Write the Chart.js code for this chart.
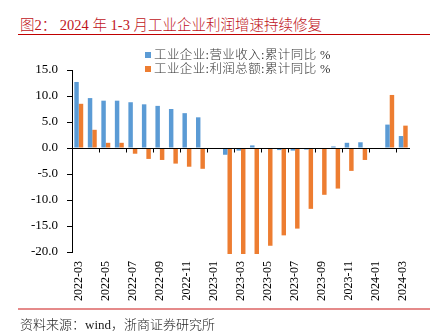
<!DOCTYPE html>
<html>
<head>
<meta charset="utf-8">
<script src="https://cdn.jsdelivr.net/npm/chart.js@4.4.1/dist/chart.umd.min.js"></script>
<style>
  body { margin: 0; background: #fff; }
  #wrap { position: relative; width: 435px; height: 333px; overflow: hidden; }
  #title { position: absolute; left: 20px; top: 13px; font: 300 14.5px "Liberation Serif", "Noto Sans CJK SC"; color: #c0141b; white-space: nowrap; }
  #topline { position: absolute; left: 18px; top: 34px; width: 412px; height: 1px; background: #c00000; }
  #legend { position: absolute; left: 145px; top: 49px; font: 300 12.5px "Liberation Serif", "Noto Sans CJK SC"; color: #333; letter-spacing: 0.4px; line-height: 13.5px; }
  #legend span.box { display: inline-block; width: 6px; height: 6px; margin-right: 3px; vertical-align: 1px; }
  #box { position: absolute; left: 0; top: 0; width: 435px; height: 333px; }
  #bottomline { position: absolute; left: 18px; top: 308px; width: 412px; height: 2px; background: #e58a8a; }
  #source { position: absolute; left: 20px; top: 314px; font: 300 13px "Liberation Serif", "Noto Sans CJK SC"; color: #222; white-space: nowrap; }
</style>
</head>
<body>
<div id="wrap">
  <div id="title">图2： 2024 年 1-3 月工业企业利润增速持续修复</div>
  <div id="topline"></div>
  <div id="box"><canvas id="profitChart"></canvas></div>
  <div id="legend"></div>
  <div id="bottomline"></div>
  <div id="source">资料来源：wind，浙商证券研究所</div>
</div>
<script>
const months = ['2022-03','2022-04','2022-05','2022-06','2022-07','2022-08','2022-09','2022-10','2022-11','2022-12',
  '2023-01','2023-02','2023-03','2023-04','2023-05','2023-06','2023-07','2023-08','2023-09','2023-10','2023-11','2023-12',
  '2024-01','2024-02','2024-03'];
// 营业收入 累计同比 %
const revenueYoY = [12.7, 9.6, 9.1, 9.1, 8.8, 8.4, 8.1, 7.5, 6.7, 5.9,
  null, -1.3, -0.5, 0.5, -0.1, -0.4, -0.5, -0.3, 0.0, 0.3, 1.0, 1.1,
  null, 4.5, 2.3];
// 利润总额 累计同比 %
const profitYoY = [8.5, 3.5, 1.0, 1.0, -1.1, -2.1, -2.3, -3.0, -3.6, -4.0,
  null, -22.9, -21.4, -20.6, -18.8, -16.8, -15.5, -11.7, -9.0, -7.8, -4.4, -2.3,
  null, 10.2, 4.3];
const seriesNames = ['工业企业:营业收入:累计同比 %', '工业企业:利润总额:累计同比 %'];
const yTicks = { min: -20, max: 15, step: 5 };

// zero line with tick marks every 2 categories
const zeroAxis = {
  id: 'zeroAxis',
  afterDatasetsDraw(chart) {
    const { ctx, chartArea, scales } = chart;
    const y0 = Math.round(scales.y.getPixelForValue(0)) + 0.5;
    const half = (scales.x.getPixelForValue(1) - scales.x.getPixelForValue(0)) / 2;
    ctx.save();
    ctx.strokeStyle = '#000';
    ctx.lineWidth = 1;
    ctx.beginPath();
    ctx.moveTo(chartArea.left, y0);
    ctx.lineTo(chartArea.right, y0);
    for (let i = 2; i < months.length; i += 2) {
      const x = Math.round(scales.x.getPixelForValue(i) - half) + 0.5;
      ctx.moveTo(x, y0);
      ctx.lineTo(x, y0 + 4);
    }
    ctx.stroke();
    ctx.restore();
  }
};

const chart = new Chart('profitChart', {
  type: 'bar',
  data: {
    labels: months,
    datasets: [
      { label: seriesNames[0], data: revenueYoY, backgroundColor: '#5b9bd5', clip: { left: 0, top: 0, right: 0, bottom: 2 } },
      { label: seriesNames[1], data: profitYoY, backgroundColor: '#ed7d31', clip: { left: 0, top: 0, right: 0, bottom: 2 } }
    ]
  },
  options: {
    responsive: true,
    maintainAspectRatio: false,
    animation: false,
    layout: { padding: { left: 0, right: 25, top: 70, bottom: 0 } },
    datasets: { bar: { categoryPercentage: 0.66, barPercentage: 1.0 } },
    plugins: { legend: { display: false }, tooltip: { enabled: false } },
    scales: {
      x: {
        grid: { display: false, drawTicks: false },
        border: { display: false },
        ticks: {
          autoSkip: false, maxRotation: 90, minRotation: 90, padding: 9,
          color: '#000', font: { family: 'Liberation Serif', size: 12 },
          callback: (v, i) => i % 2 === 0 ? months[i] : ''
        },
        afterFit: s => { s.height = 81; }
      },
      y: {
        min: yTicks.min, max: yTicks.max,
        grid: { drawOnChartArea: false, drawTicks: true, tickLength: 5, tickColor: '#000' },
        border: { display: true, color: '#000', width: 1 },
        ticks: {
          stepSize: yTicks.step, padding: 9, color: '#000',
          font: { family: 'Liberation Serif', size: 13 },
          callback: v => v.toFixed(1)
        },
        afterFit: s => { s.width = 72; }
      }
    }
  },
  plugins: [zeroAxis]
});

// legend in two rows, as in the source chart
document.getElementById('legend').innerHTML = chart.data.datasets.map(d =>
  '<div><span class="box" style="background:' + d.backgroundColor + '"></span>' + d.label + '</div>'
).join('');
</script>
</body>
</html>
